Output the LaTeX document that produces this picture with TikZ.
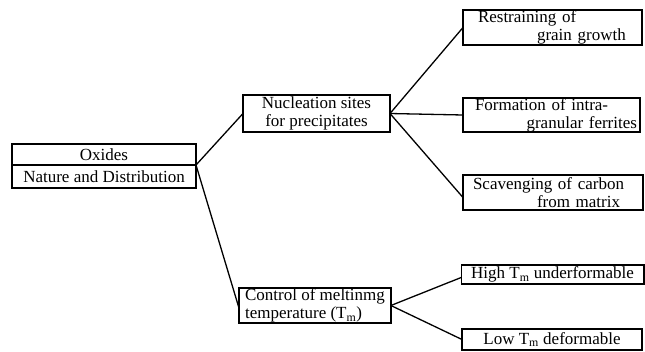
\documentclass[tikz,border=0pt]{standalone}
\usepackage{fontspec}
\setmainfont{Liberation Serif}
\usepackage{tikz}

\begin{document}
\begin{tikzpicture}[x=1pt,y=-1pt,line width=1.3pt,
  box/.style={draw,inner xsep=10pt,inner ysep=0pt,font=\fontsize{17}{18}\selectfont},
  lbox/.style={box,align=left,text width=#1},
  every node/.style={outer sep=0pt}]
  \useasboundingbox (0,0) rectangle (645,351);
  % left box
  \node[box,minimum width=184pt,minimum height=21pt] (oxides) at (104,154.5) {Oxides};
  \node[box,minimum width=184pt,minimum height=23pt] (nature) at (104,176.5) {Nature and Distribution};
  % middle
  \node[box,align=center,minimum width=147pt,minimum height=37pt] (nucl) at (316.5,113.5)
    {Nucleation sites\\for precipitates};
  \node[box,align=left,minimum width=146pt,minimum height=35pt,inner xsep=6pt] (ctrl) at (315,305.5)
    {Control of meltinmg\\temperature (T\textsubscript{m})};
  % right
  \node[lbox=149pt,minimum height=35pt,inner xsep=15pt] (restr) at (552.5,27.5)
    {Restraining of\\\hspace*{59pt}grain growth};
  \node[lbox=171pt,minimum height=34pt,inner xsep=3pt] (form) at (551.5,115)
    {\hspace*{9pt}Formation of intra-\\\hspace*{\fill}granular ferrites};
  \node[lbox=160pt,minimum height=35pt] (scav) at (553,192.5)
    {Scavenging of carbon\\\hspace*{64pt}from matrix};
  \node[box,minimum width=179pt,minimum height=19pt] (high) at (552.5,274.5)
    {High T\textsubscript{m} underformable};
  \node[box,minimum width=180pt,minimum height=21pt] (low) at (552,339.5)
    {Low T\textsubscript{m} deformable};
  % connectors
  \draw (nature.north east)--(nucl.west);
  \draw (nature.north east)--([yshift=-3pt]ctrl.west);
  \draw (nucl.east)--(restr.west);
  \draw (nucl.east)--(form.west);
  \draw (nucl.east)--([yshift=-5pt]scav.west);
  \draw (ctrl.east)--([yshift=-3pt]high.west);
  \draw (ctrl.east)--(low.west);
\end{tikzpicture}
\end{document}
